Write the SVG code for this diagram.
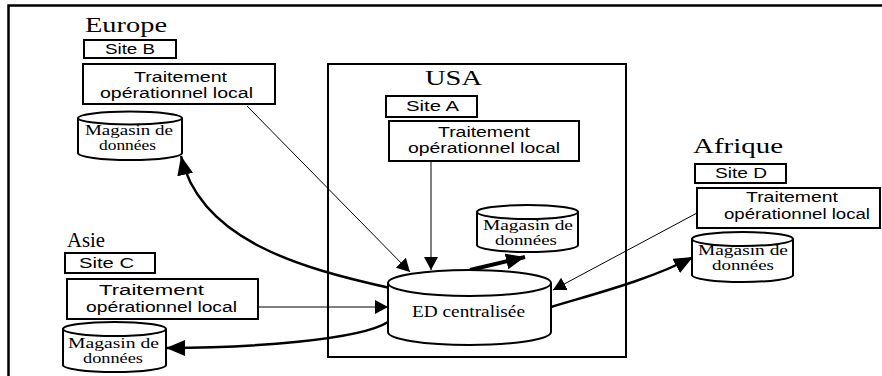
<svg xmlns="http://www.w3.org/2000/svg" width="882" height="376" viewBox="0 0 882 376">
<style>
  .box{fill:#fff;stroke:#000;stroke-width:2}
  .cyl{fill:#fff;stroke:#000;stroke-width:2}
  .region{font-family:"Liberation Serif","Times New Roman",serif;font-size:21px;fill:#000}
  .sans{font-family:"Liberation Sans",Arial,sans-serif;font-size:14px;fill:#000}
  .serif{font-family:"Liberation Serif","Times New Roman",serif;font-size:14px;fill:#000}
  .thin{fill:none;stroke:#000;stroke-width:1}
  .thick{fill:none;stroke:#000;stroke-width:2.5}
</style>
<defs>
  <marker id="ah" markerUnits="userSpaceOnUse" markerWidth="14" markerHeight="14" refX="13" refY="7" orient="auto">
    <path d="M0,0 L13,7 L0,14 z" fill="#000"/>
  </marker>
  <marker id="ahb" markerUnits="userSpaceOnUse" markerWidth="20" markerHeight="16" refX="19" refY="8" orient="auto">
    <path d="M0,0 L19,8 L0,16 z" fill="#000"/>
  </marker>
</defs>
<rect width="882" height="376" fill="#fff"/>
<path d="M8.5,376 V5.5 H882" fill="none" stroke="#000" stroke-width="2.5"/>
<g id="usa">
  <rect x="328" y="64" width="298" height="293" fill="none" stroke="#000" stroke-width="2"/>
  <text class="region" x="425" y="85" textLength="57" lengthAdjust="spacingAndGlyphs">USA</text>
</g>
<g id="connectors">
  <line class="thin" x1="247" y1="106" x2="410" y2="272" marker-end="url(#ah)"/>
  <line class="thin" x1="431" y1="161" x2="431" y2="270" marker-end="url(#ah)"/>
  <line class="thin" x1="697" y1="213" x2="553" y2="290" marker-end="url(#ah)"/>
  <line class="thin" x1="258" y1="307" x2="388" y2="307" marker-end="url(#ah)"/>
  <path class="thick" d="M390,288 C300,268 200,240 181,156" marker-end="url(#ahb)"/>
  <line x1="470" y1="270" x2="525" y2="257" stroke="#000" stroke-width="4" marker-end="url(#ahb)"/>
  <path class="thick" d="M551,307 C590,295 650,280 693,257" marker-end="url(#ahb)"/>
  <path class="thick" d="M388,322 C360,340 250,348 166,348" marker-end="url(#ahb)"/>
</g>
<g id="europe">
  <text class="region" x="85" y="32" textLength="82" lengthAdjust="spacingAndGlyphs">Europe</text>
</g>
<g id="site-b">
  <rect class="box" x="84" y="40" width="92" height="18"/>
  <text class="sans" x="105" y="54" textLength="50" lengthAdjust="spacingAndGlyphs">Site B</text>
</g>
<g id="traitement-b">
  <rect class="box" x="83" y="64" width="192" height="40"/>
  <text class="sans" x="134" y="82" textLength="93" lengthAdjust="spacingAndGlyphs">Traitement</text>
  <text class="sans" x="100" y="98" textLength="153" lengthAdjust="spacingAndGlyphs">opérationnel local</text>
</g>
<g id="magasin-b">
  <path class="cyl" d="M78,118 V153 A52,7 0 0 0 182,153 V118"/>
  <ellipse class="cyl" cx="130" cy="118" rx="52" ry="6.5"/>
  <text class="serif" x="85" y="135" textLength="88" lengthAdjust="spacingAndGlyphs">Magasin de</text>
  <text class="serif" x="99" y="150" textLength="57" lengthAdjust="spacingAndGlyphs">données</text>
</g>
<g id="site-a">
  <rect class="box" x="386" y="96" width="91" height="21"/>
  <text class="sans" x="406" y="111" textLength="53" lengthAdjust="spacingAndGlyphs">Site A</text>
</g>
<g id="traitement-a">
  <rect class="box" x="389" y="121" width="190" height="40"/>
  <text class="sans" x="438" y="137" textLength="92" lengthAdjust="spacingAndGlyphs">Traitement</text>
  <text class="sans" x="408" y="153" textLength="152" lengthAdjust="spacingAndGlyphs">opérationnel local</text>
</g>
<g id="magasin-a">
  <path class="cyl" d="M477,212 V245 A50.5,7 0 0 0 578,245 V212"/>
  <ellipse class="cyl" cx="527.5" cy="212" rx="50.5" ry="7"/>
  <text class="serif" x="483" y="230" textLength="90" lengthAdjust="spacingAndGlyphs">Magasin de</text>
  <text class="serif" x="495" y="245" textLength="62" lengthAdjust="spacingAndGlyphs">données</text>
</g>
<g id="ed-centralisee">
  <path class="cyl" d="M388,283 V332 A81.5,13 0 0 0 551,332 V283"/>
  <ellipse class="cyl" cx="469.5" cy="283" rx="81.5" ry="13"/>
  <text class="serif" style="font-size:17px" x="412" y="317" textLength="113" lengthAdjust="spacingAndGlyphs">ED centralisée</text>
</g>
<g id="afrique">
  <text class="region" x="693" y="153" textLength="90" lengthAdjust="spacingAndGlyphs">Afrique</text>
</g>
<g id="site-d">
  <rect class="box" x="695" y="164" width="91" height="19"/>
  <text class="sans" x="715" y="178" textLength="52" lengthAdjust="spacingAndGlyphs">Site D</text>
</g>
<g id="traitement-d">
  <rect class="box" x="697" y="188" width="183" height="40"/>
  <text class="sans" x="746" y="202" textLength="92" lengthAdjust="spacingAndGlyphs">Traitement</text>
  <text class="sans" x="724" y="219" textLength="146" lengthAdjust="spacingAndGlyphs">opérationnel local</text>
</g>
<g id="magasin-d">
  <path class="cyl" d="M692,239 V275 A50.5,7 0 0 0 793,275 V239"/>
  <ellipse class="cyl" cx="742.5" cy="239" rx="50.5" ry="7"/>
  <text class="serif" x="698" y="255" textLength="90" lengthAdjust="spacingAndGlyphs">Magasin de</text>
  <text class="serif" x="712" y="270" textLength="62" lengthAdjust="spacingAndGlyphs">données</text>
</g>
<g id="asie">
  <text class="region" style="font-size:22px" x="67" y="247" textLength="38" lengthAdjust="spacingAndGlyphs">Asie</text>
</g>
<g id="site-c">
  <rect class="box" x="65" y="253" width="90" height="20"/>
  <text class="sans" x="79" y="268" textLength="55" lengthAdjust="spacingAndGlyphs">Site C</text>
</g>
<g id="traitement-c">
  <rect class="box" x="67" y="279" width="191" height="40"/>
  <text class="sans" x="99" y="295" textLength="105" lengthAdjust="spacingAndGlyphs">Traitement</text>
  <text class="sans" x="86" y="312" textLength="151" lengthAdjust="spacingAndGlyphs">opérationnel local</text>
</g>
<g id="magasin-c">
  <path class="cyl" d="M63,329 V365 A51.5,7 0 0 0 166,365 V329"/>
  <ellipse class="cyl" cx="114.5" cy="329" rx="51.5" ry="7"/>
  <text class="serif" x="68" y="348" textLength="91" lengthAdjust="spacingAndGlyphs">Magasin de</text>
  <text class="serif" x="83" y="363" textLength="60" lengthAdjust="spacingAndGlyphs">données</text>
</g>
</svg>
